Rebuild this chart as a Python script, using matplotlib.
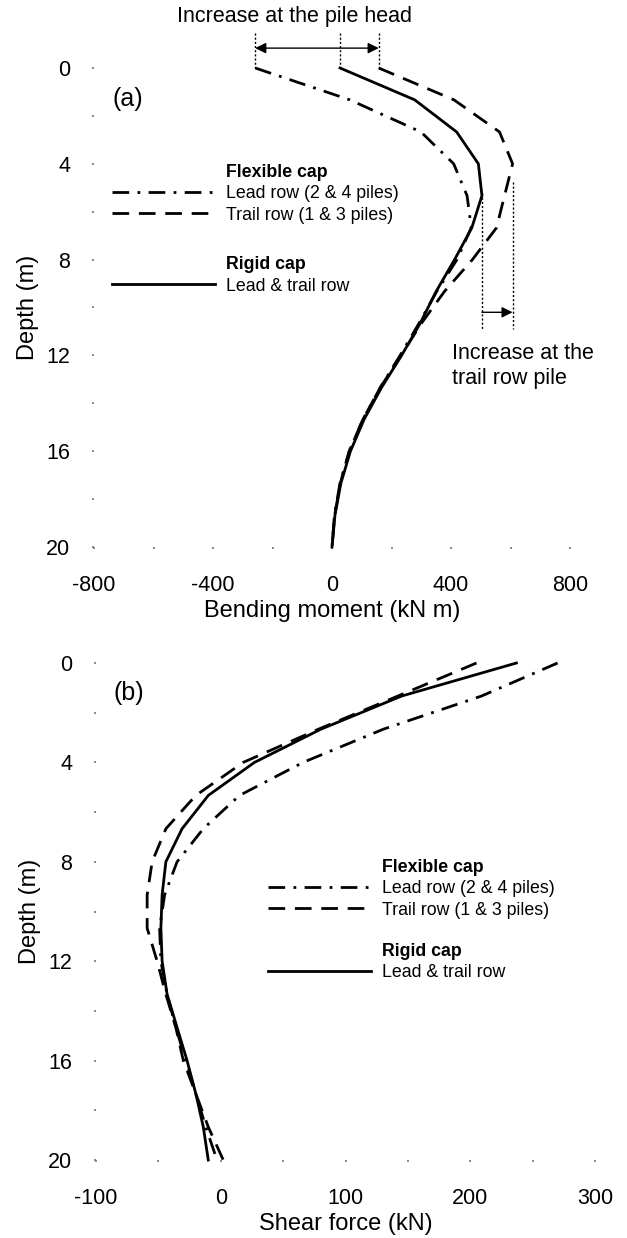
import matplotlib.pyplot as plt
from matplotlib.lines import Line2D
from matplotlib.ticker import MultipleLocator

plt.rcParams['font.family'] = ['Liberation Sans', 'DejaVu Sans']
plt.rcParams['axes.unicode_minus'] = False

# Profundidade dos nós ao longo da estaca (m)
depth = [0, 1.33, 2.67, 4.0, 5.33, 6.67, 8.0, 9.33, 10.67, 12.0, 13.33, 14.67, 16.0, 17.33, 18.67, 20.0]

# Momento fletor (kN m)
moment_lead = [-258, 60, 299, 409, 454, 468, 420, 352, 292, 229, 163, 104, 58, 27, 8, 0]
moment_trail = [157, 410, 563, 607, 580, 553, 472, 378, 300, 232, 163, 104, 58, 28, 9, 0]
moment_rigid = [27, 278, 419, 492, 504, 470, 412, 350, 296, 234, 167, 108, 62, 30, 10, 0]

# Esforço cortante (kN)
shear_lead = [270, 209, 130, 66, 15, -14, -35, -45, -49, -48, -43, -36, -28, -20, -12, -3]
shear_trail = [205, 142, 78, 18, -20, -44, -55, -59, -59, -51, -44, -36, -30, -20, -10, 2]
shear_rigid = [237, 145, 80, 27, -10, -31, -44, -47, -48, -47, -43, -35, -27, -20, -14, -10]

lw = 2.0
ls_lead = (0, (6, 3, 1, 3))
ls_trail = (0, (6, 3.5))
dotted = (0, (1.5, 1.5))

fig = plt.figure(figsize=(6.27, 12.38), dpi=100)
ax1 = fig.add_axes([94 / 627, 1 - 547 / 1238, 476 / 627, 479 / 1238])
ax2 = fig.add_axes([96 / 627, 1 - 1160 / 1238, 499 / 627, 497 / 1238])


def style_axes(ax, xmaj, xmin):
    for s in ax.spines.values():
        s.set_visible(False)
    ax.set_ylim(20, 0)
    ax.yaxis.set_major_locator(MultipleLocator(4))
    ax.yaxis.set_minor_locator(MultipleLocator(2))
    ax.xaxis.set_major_locator(MultipleLocator(xmaj))
    ax.xaxis.set_minor_locator(MultipleLocator(xmin))
    ax.tick_params(which='both', length=1.2, width=1.2, color='#777777')
    ax.tick_params(axis='x', which='major', labelsize=15.5, pad=19)
    ax.tick_params(axis='y', which='major', labelsize=15.5, pad=16)
    ax.set_ylabel('Depth (m)', fontsize=17, labelpad=5)


def add_legends(ax, x0, y_flex, y_rigid):
    blank = Line2D([], [], color='none')
    h_lead = Line2D([], [], color='k', lw=lw, ls=ls_lead)
    h_trail = Line2D([], [], color='k', lw=lw, ls=ls_trail)
    h_rigid = Line2D([], [], color='k', lw=lw)
    opts = dict(loc='upper left', frameon=False, fontsize=12.8, handlelength=5.8,
                handletextpad=0.6, labelspacing=0.25, borderpad=0, borderaxespad=0)
    leg1 = ax.legend([blank, h_lead, h_trail],
                     ['Flexible cap', 'Lead row (2 & 4 piles)', 'Trail row (1 & 3 piles)'],
                     bbox_to_anchor=(x0, y_flex), **opts)
    leg1.get_texts()[0].set_fontweight('bold')
    ax.add_artist(leg1)
    leg2 = ax.legend([blank, h_rigid], ['Rigid cap', 'Lead & trail row'],
                     bbox_to_anchor=(x0, y_rigid), **opts)
    leg2.get_texts()[0].set_fontweight('bold')


# (a) Momento fletor
ax1.plot(moment_lead, depth, color='k', lw=lw, ls=ls_lead, clip_on=False)
ax1.plot(moment_trail, depth, color='k', lw=lw, ls=ls_trail, clip_on=False)
ax1.plot(moment_rigid, depth, color='k', lw=lw, clip_on=False)
ax1.set_xlim(-800, 800)
style_axes(ax1, 400, 200)
ax1.set_xlabel('Bending moment (kN m)', fontsize=17, labelpad=3)
ax1.text(-687, 1.3, '(a)', fontsize=18, ha='center', va='center')
add_legends(ax1, 0.038, 0.80, 0.607)

# aumento no topo da estaca
for m in (moment_lead[0], moment_rigid[0], moment_trail[0]):
    ax1.plot([m, m], [-1.46, 0], color='k', lw=1, ls=dotted, clip_on=False)
ax1.annotate('', xy=(moment_trail[0], -0.83), xytext=(moment_lead[0], -0.83),
             arrowprops=dict(arrowstyle='<|-|>', color='k', lw=1, mutation_scale=16,
                             shrinkA=0, shrinkB=0), annotation_clip=False)
ax1.text(-127, -2.13, 'Increase at the pile head', fontsize=15.5, ha='center', va='center')

# aumento na estaca da fila de trás
m_rigid = max(moment_rigid)
m_trail = max(moment_trail)
ax1.plot([m_rigid, m_rigid], [5.2, 10.9], color='k', lw=1, ls=dotted, clip_on=False)
ax1.plot([m_trail, m_trail], [4.76, 10.9], color='k', lw=1, ls=dotted, clip_on=False)
ax1.annotate('', xy=(m_trail, 10.2), xytext=(m_rigid, 10.2),
             arrowprops=dict(arrowstyle='-|>', color='k', lw=1, mutation_scale=16,
                             shrinkA=0, shrinkB=0), annotation_clip=False)
ax1.text(405, 11.5, 'Increase at the\ntrail row pile', fontsize=15.5, ha='left', va='top',
         linespacing=1.25)

# (b) Esforço cortante
ax2.plot(shear_lead, depth, color='k', lw=lw, ls=ls_lead, clip_on=False)
ax2.plot(shear_trail, depth, color='k', lw=lw, ls=ls_trail, clip_on=False)
ax2.plot(shear_rigid, depth, color='k', lw=lw, clip_on=False)
ax2.set_xlim(-100, 300)
style_axes(ax2, 100, 50)
ax2.set_xlabel('Shear force (kN)', fontsize=17, labelpad=3)
ax2.text(-74, 1.2, '(b)', fontsize=18, ha='center', va='center')
add_legends(ax2, 0.345, 0.606, 0.437)

fig.savefig('out.png', dpi=100)
